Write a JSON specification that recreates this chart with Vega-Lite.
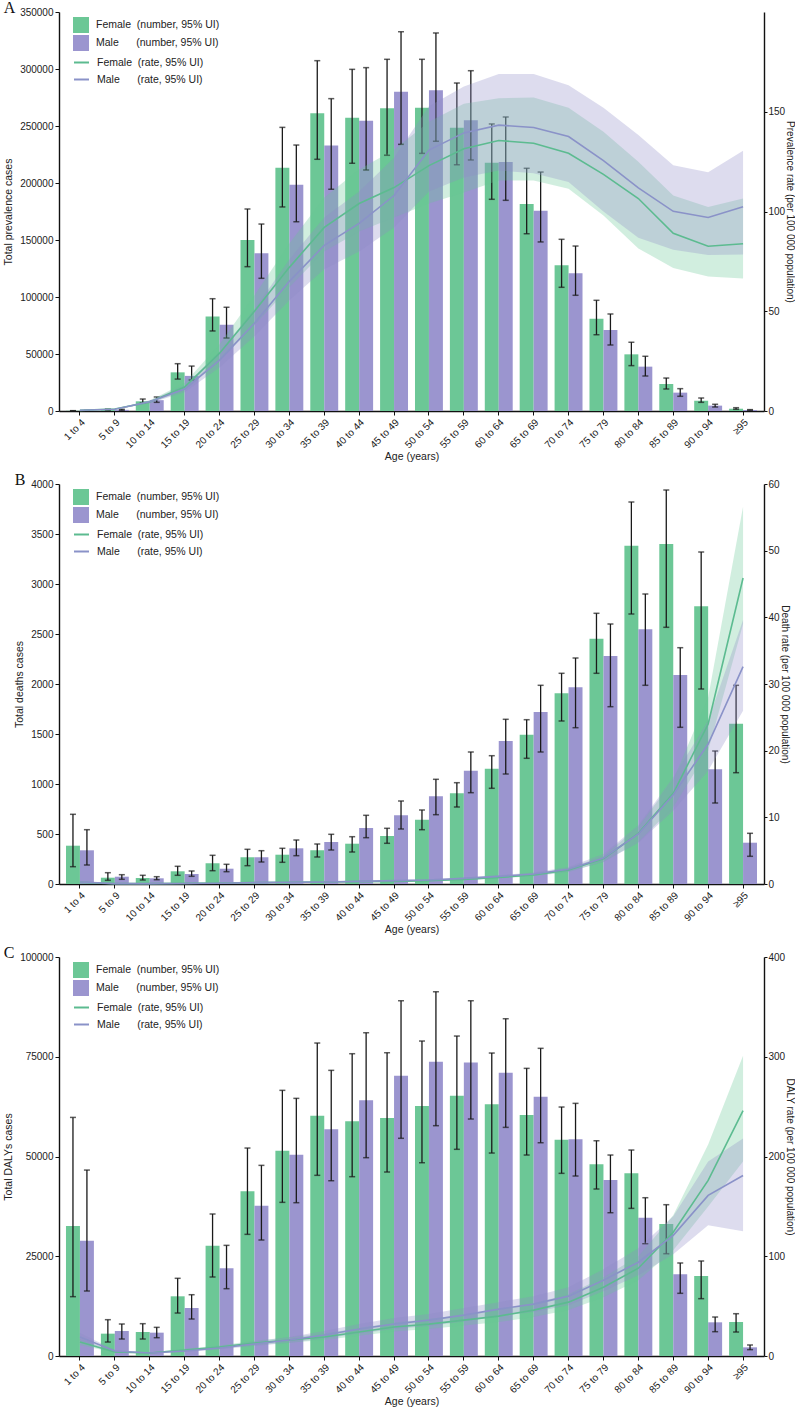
{
"$schema": "https://vega.github.io/schema/vega-lite/v6.json",
"padding": {"left": 3, "top": 0, "right": 0, "bottom": 0},
"config": {
  "font": "Liberation Sans",
  "view": {"stroke": null},
  "axis": {"domainColor": "#111", "tickColor": "#111", "labelColor": "#222", "titleColor": "#222", "labelFontSize": 10, "titleFontSize": 10.5, "titleFontWeight": "normal", "grid": false, "domainWidth": 1.4, "tickSize": 4, "labelFont": "Liberation Sans", "titleFont": "Liberation Sans"},
  "legend": {"labelFontSize": 10.5, "labelColor": "#222", "labelFont": "Liberation Sans", "title": null, "padding": 0, "labelOffset": 7},
  "title": {"font": "Liberation Serif", "fontSize": 16, "fontWeight": "normal", "color": "#111", "anchor": "start", "frame": "bounds"}
},
"resolve": {"scale": {"fill": "independent", "stroke": "independent"}, "legend": {"fill": "independent", "stroke": "independent"}},
"spacing": 9,
"datasets": {
"a": [
{"a":"1 to 4","s":"Female","n":200,"lo":100,"hi":300,"r":0.3,"rl":0.25,"rh":0.35},
{"a":"5 to 9","s":"Female","n":1200,"lo":800,"hi":1700,"r":1.0,"rl":0.85,"rh":1.15},
{"a":"10 to 14","s":"Female","n":8500,"lo":7000,"hi":10500,"r":4.5,"rl":3.9,"rh":5.3},
{"a":"15 to 19","s":"Female","n":33900,"lo":28000,"hi":41500,"r":12,"rl":10.3,"rh":14},
{"a":"20 to 24","s":"Female","n":83000,"lo":70200,"hi":98500,"r":29,"rl":25,"rh":33.5},
{"a":"25 to 29","s":"Female","n":150000,"lo":126600,"hi":177200,"r":50,"rl":43,"rh":58},
{"a":"30 to 34","s":"Female","n":213400,"lo":179000,"hi":248800,"r":72,"rl":62,"rh":84},
{"a":"35 to 39","s":"Female","n":261100,"lo":220800,"hi":307300,"r":92,"rl":80,"rh":107},
{"a":"40 to 44","s":"Female","n":257300,"lo":217300,"hi":299700,"r":104,"rl":90,"rh":121},
{"a":"45 to 49","s":"Female","n":265500,"lo":224300,"hi":308500,"r":112,"rl":97,"rh":131},
{"a":"50 to 54","s":"Female","n":266000,"lo":226000,"hi":308500,"r":123,"rl":104,"rh":145},
{"a":"55 to 59","s":"Female","n":248500,"lo":216000,"hi":287700,"r":131.5,"rl":109.5,"rh":154},
{"a":"60 to 64","s":"Female","n":217800,"lo":185700,"hi":251800,"r":135.6,"rl":115.6,"rh":156.8},
{"a":"65 to 69","s":"Female","n":181600,"lo":155500,"hi":212900,"r":134.2,"rl":115.6,"rh":157.1},
{"a":"70 to 74","s":"Female","n":127800,"lo":108500,"hi":150600,"r":129.2,"rl":111.4,"rh":152},
{"a":"75 to 79","s":"Female","n":81000,"lo":66900,"hi":97100,"r":118.6,"rl":98,"rh":140},
{"a":"80 to 84","s":"Female","n":49700,"lo":39800,"hi":60300,"r":106.5,"rl":81.5,"rh":125},
{"a":"85 to 89","s":"Female","n":23700,"lo":19300,"hi":28900,"r":89.1,"rl":71.7,"rh":108},
{"a":"90 to 94","s":"Female","n":9000,"lo":7600,"hi":11400,"r":82.6,"rl":67.4,"rh":102.3},
{"a":"≥95","s":"Female","n":2000,"lo":1500,"hi":2900,"r":83.8,"rl":66.4,"rh":106.5},
{"a":"1 to 4","s":"Male","n":300,"lo":150,"hi":450,"r":0.4,"rl":0.34,"rh":0.46},
{"a":"5 to 9","s":"Male","n":1000,"lo":600,"hi":1500,"r":0.9,"rl":0.77,"rh":1.04},
{"a":"10 to 14","s":"Male","n":9500,"lo":7600,"hi":12300,"r":4.6,"rl":3.9,"rh":5.4},
{"a":"15 to 19","s":"Male","n":30800,"lo":27200,"hi":39400,"r":11,"rl":9.4,"rh":12.8},
{"a":"20 to 24","s":"Male","n":75700,"lo":64000,"hi":91000,"r":25.5,"rl":21.8,"rh":29.6},
{"a":"25 to 29","s":"Male","n":138300,"lo":116400,"hi":164000,"r":44,"rl":37.5,"rh":51},
{"a":"30 to 34","s":"Male","n":198500,"lo":166000,"hi":233300,"r":65,"rl":55.5,"rh":76},
{"a":"35 to 39","s":"Male","n":233000,"lo":194500,"hi":274000,"r":83,"rl":71,"rh":97},
{"a":"40 to 44","s":"Male","n":254700,"lo":211400,"hi":301200,"r":94,"rl":80,"rh":110},
{"a":"45 to 49","s":"Male","n":280100,"lo":233900,"hi":332700,"r":108,"rl":92,"rh":127},
{"a":"50 to 54","s":"Male","n":281300,"lo":236600,"hi":331600,"r":130.8,"rl":110,"rh":152.7},
{"a":"55 to 59","s":"Male","n":255000,"lo":220200,"hi":298500,"r":139.4,"rl":117,"rh":162.6},
{"a":"60 to 64","s":"Male","n":218400,"lo":184800,"hi":257900,"r":143.3,"rl":120.6,"rh":168.9},
{"a":"65 to 69","s":"Male","n":175700,"lo":148300,"hi":209600,"r":142.1,"rl":119.2,"rh":168.9},
{"a":"70 to 74","s":"Male","n":120800,"lo":101500,"hi":144700,"r":137.6,"rl":114.8,"rh":163.3},
{"a":"75 to 79","s":"Male","n":71100,"lo":57900,"hi":85100,"r":125.5,"rl":100,"rh":152},
{"a":"80 to 84","s":"Male","n":38900,"lo":30700,"hi":48000,"r":111.8,"rl":86.8,"rh":138.3},
{"a":"85 to 89","s":"Male","n":16100,"lo":12900,"hi":19600,"r":100.1,"rl":80.8,"rh":123.2},
{"a":"90 to 94","s":"Male","n":4700,"lo":3500,"hi":5900,"r":97,"rl":78.2,"rh":119.7},
{"a":"≥95","s":"Male","n":900,"lo":600,"hi":1200,"r":102.4,"rl":78.5,"rh":130.5}
],
"b": [
{"a":"1 to 4","s":"Female","n":383,"lo":173,"hi":697,"r":0.25,"rl":0.15,"rh":0.35},
{"a":"5 to 9","s":"Female","n":63,"lo":37,"hi":113,"r":0.05,"rl":0.03,"rh":0.07},
{"a":"10 to 14","s":"Female","n":60,"lo":40,"hi":87,"r":0.05,"rl":0.03,"rh":0.07},
{"a":"15 to 19","s":"Female","n":127,"lo":87,"hi":177,"r":0.1,"rl":0.07,"rh":0.13},
{"a":"20 to 24","s":"Female","n":207,"lo":133,"hi":287,"r":0.15,"rl":0.1,"rh":0.2},
{"a":"25 to 29","s":"Female","n":267,"lo":183,"hi":347,"r":0.2,"rl":0.14,"rh":0.26},
{"a":"30 to 34","s":"Female","n":293,"lo":217,"hi":357,"r":0.25,"rl":0.19,"rh":0.31},
{"a":"35 to 39","s":"Female","n":337,"lo":270,"hi":400,"r":0.3,"rl":0.24,"rh":0.36},
{"a":"40 to 44","s":"Female","n":403,"lo":320,"hi":473,"r":0.35,"rl":0.29,"rh":0.41},
{"a":"45 to 49","s":"Female","n":480,"lo":407,"hi":557,"r":0.4,"rl":0.34,"rh":0.46},
{"a":"50 to 54","s":"Female","n":643,"lo":543,"hi":740,"r":0.5,"rl":0.42,"rh":0.58},
{"a":"55 to 59","s":"Female","n":907,"lo":770,"hi":1013,"r":0.7,"rl":0.6,"rh":0.8},
{"a":"60 to 64","s":"Female","n":1153,"lo":957,"hi":1283,"r":1.0,"rl":0.85,"rh":1.12},
{"a":"65 to 69","s":"Female","n":1493,"lo":1257,"hi":1643,"r":1.35,"rl":1.15,"rh":1.5},
{"a":"70 to 74","s":"Female","n":1907,"lo":1630,"hi":2107,"r":2.1,"rl":1.8,"rh":2.35},
{"a":"75 to 79","s":"Female","n":2453,"lo":2107,"hi":2707,"r":3.8,"rl":3.3,"rh":4.2},
{"a":"80 to 84","s":"Female","n":3383,"lo":2700,"hi":3820,"r":7.6,"rl":6.3,"rh":8.6},
{"a":"85 to 89","s":"Female","n":3400,"lo":2567,"hi":3940,"r":13.6,"rl":11.5,"rh":15.6},
{"a":"90 to 94","s":"Female","n":2777,"lo":1950,"hi":3320,"r":24,"rl":20,"rh":28},
{"a":"≥95","s":"Female","n":1603,"lo":1113,"hi":1987,"r":45.9,"rl":39,"rh":56.6},
{"a":"1 to 4","s":"Male","n":337,"lo":190,"hi":543,"r":0.3,"rl":0.18,"rh":0.42},
{"a":"5 to 9","s":"Male","n":73,"lo":47,"hi":93,"r":0.05,"rl":0.03,"rh":0.07},
{"a":"10 to 14","s":"Male","n":57,"lo":43,"hi":73,"r":0.05,"rl":0.03,"rh":0.07},
{"a":"15 to 19","s":"Male","n":100,"lo":77,"hi":130,"r":0.08,"rl":0.06,"rh":0.1},
{"a":"20 to 24","s":"Male","n":153,"lo":123,"hi":197,"r":0.12,"rl":0.09,"rh":0.15},
{"a":"25 to 29","s":"Male","n":267,"lo":220,"hi":333,"r":0.2,"rl":0.15,"rh":0.25},
{"a":"30 to 34","s":"Male","n":357,"lo":283,"hi":440,"r":0.25,"rl":0.2,"rh":0.3},
{"a":"35 to 39","s":"Male","n":420,"lo":340,"hi":497,"r":0.3,"rl":0.24,"rh":0.36},
{"a":"40 to 44","s":"Male","n":560,"lo":463,"hi":687,"r":0.4,"rl":0.33,"rh":0.47},
{"a":"45 to 49","s":"Male","n":687,"lo":550,"hi":830,"r":0.5,"rl":0.42,"rh":0.58},
{"a":"50 to 54","s":"Male","n":877,"lo":693,"hi":1047,"r":0.6,"rl":0.5,"rh":0.7},
{"a":"55 to 59","s":"Male","n":1133,"lo":913,"hi":1320,"r":0.85,"rl":0.72,"rh":0.98},
{"a":"60 to 64","s":"Male","n":1430,"lo":1100,"hi":1647,"r":1.15,"rl":0.98,"rh":1.32},
{"a":"65 to 69","s":"Male","n":1720,"lo":1320,"hi":1987,"r":1.5,"rl":1.28,"rh":1.72},
{"a":"70 to 74","s":"Male","n":1967,"lo":1563,"hi":2260,"r":2.2,"rl":1.85,"rh":2.55},
{"a":"75 to 79","s":"Male","n":2280,"lo":1773,"hi":2600,"r":3.9,"rl":3.3,"rh":4.5},
{"a":"80 to 84","s":"Male","n":2547,"lo":1987,"hi":2900,"r":7.5,"rl":6.2,"rh":8.8},
{"a":"85 to 89","s":"Male","n":2090,"lo":1567,"hi":2363,"r":13.4,"rl":11,"rh":16},
{"a":"90 to 94","s":"Male","n":1147,"lo":810,"hi":1330,"r":21,"rl":17,"rh":24.5},
{"a":"≥95","s":"Male","n":413,"lo":277,"hi":507,"r":32.6,"rl":26,"rh":39.6}
],
"c": [
{"a":"1 to 4","s":"Female","n":32580,"lo":14870,"hi":59800,"r":14,"rl":11,"rh":17},
{"a":"5 to 9","s":"Female","n":5600,"lo":3500,"hi":9100,"r":4,"rl":3.2,"rh":4.8},
{"a":"10 to 14","s":"Female","n":6010,"lo":4260,"hi":8100,"r":3,"rl":2.4,"rh":3.6},
{"a":"15 to 19","s":"Female","n":14960,"lo":10770,"hi":19470,"r":6,"rl":4.8,"rh":7.2},
{"a":"20 to 24","s":"Female","n":27640,"lo":19800,"hi":35590,"r":9,"rl":7.4,"rh":10.6},
{"a":"25 to 29","s":"Female","n":41270,"lo":30490,"hi":52120,"r":13,"rl":10.8,"rh":15.2},
{"a":"30 to 34","s":"Female","n":51450,"lo":38510,"hi":66580,"r":16,"rl":13.4,"rh":18.8},
{"a":"35 to 39","s":"Female","n":60220,"lo":45280,"hi":78440,"r":19,"rl":16,"rh":22.5},
{"a":"40 to 44","s":"Female","n":58810,"lo":44940,"hi":75760,"r":24,"rl":20.3,"rh":28},
{"a":"45 to 49","s":"Female","n":59640,"lo":46110,"hi":76010,"r":29,"rl":24.5,"rh":33.5},
{"a":"50 to 54","s":"Female","n":62650,"lo":48440,"hi":78940,"r":32,"rl":27,"rh":37},
{"a":"55 to 59","s":"Female","n":65230,"lo":51800,"hi":80190,"r":36,"rl":30.5,"rh":41.5},
{"a":"60 to 64","s":"Female","n":63070,"lo":50870,"hi":75930,"r":40,"rl":34,"rh":46},
{"a":"65 to 69","s":"Female","n":60390,"lo":50370,"hi":72090,"r":46,"rl":39,"rh":53},
{"a":"70 to 74","s":"Female","n":54210,"lo":45780,"hi":62400,"r":54,"rl":46,"rh":62},
{"a":"75 to 79","s":"Female","n":48040,"lo":41850,"hi":53950,"r":69,"rl":59,"rh":79},
{"a":"80 to 84","s":"Female","n":45780,"lo":37000,"hi":51620,"r":88,"rl":76,"rh":100},
{"a":"85 to 89","s":"Female","n":33080,"lo":25640,"hi":37920,"r":124,"rl":106,"rh":141},
{"a":"90 to 94","s":"Female","n":20050,"lo":14370,"hi":23810,"r":176,"rl":150,"rh":212},
{"a":"≥95","s":"Female","n":8520,"lo":6010,"hi":10600,"r":246,"rl":195,"rh":301},
{"a":"1 to 4","s":"Male","n":28900,"lo":16290,"hi":46600,"r":19,"rl":15,"rh":23},
{"a":"5 to 9","s":"Male","n":6270,"lo":4260,"hi":8020,"r":5,"rl":4,"rh":6},
{"a":"10 to 14","s":"Male","n":5850,"lo":4590,"hi":7180,"r":3,"rl":2.4,"rh":3.6},
{"a":"15 to 19","s":"Male","n":12030,"lo":9270,"hi":15360,"r":5,"rl":4,"rh":6},
{"a":"20 to 24","s":"Male","n":21980,"lo":16870,"hi":27730,"r":8,"rl":6.5,"rh":9.5},
{"a":"25 to 29","s":"Male","n":37670,"lo":29070,"hi":47780,"r":12,"rl":10,"rh":14.5},
{"a":"30 to 34","s":"Male","n":50450,"lo":38420,"hi":64570,"r":16,"rl":13.2,"rh":19},
{"a":"35 to 39","s":"Male","n":56810,"lo":43930,"hi":71590,"r":21,"rl":17.5,"rh":25},
{"a":"40 to 44","s":"Male","n":64070,"lo":49700,"hi":81020,"r":27,"rl":22.5,"rh":32},
{"a":"45 to 49","s":"Male","n":70240,"lo":54560,"hi":89040,"r":32,"rl":27,"rh":38},
{"a":"50 to 54","s":"Male","n":73750,"lo":57720,"hi":91290,"r":36,"rl":30,"rh":42},
{"a":"55 to 59","s":"Male","n":73580,"lo":59390,"hi":89040,"r":41,"rl":34.5,"rh":48},
{"a":"60 to 64","s":"Male","n":70990,"lo":57300,"hi":84530,"r":47,"rl":40,"rh":54},
{"a":"65 to 69","s":"Male","n":64980,"lo":53450,"hi":77110,"r":52,"rl":44,"rh":60},
{"a":"70 to 74","s":"Male","n":54300,"lo":45110,"hi":63320,"r":60,"rl":51,"rh":69},
{"a":"75 to 79","s":"Male","n":44110,"lo":35910,"hi":50370,"r":76,"rl":65,"rh":87},
{"a":"80 to 84","s":"Male","n":34660,"lo":28140,"hi":39670,"r":94,"rl":81,"rh":108},
{"a":"85 to 89","s":"Male","n":20470,"lo":15710,"hi":23310,"r":121,"rl":102,"rh":140},
{"a":"90 to 94","s":"Male","n":8440,"lo":6090,"hi":9770,"r":161,"rl":131,"rh":195},
{"a":"≥95","s":"Male","n":2170,"lo":1590,"hi":2760,"r":181,"rl":125,"rh":218}
]
},
"vconcat": [
{
  "title": {"text": "A", "offset": -9},
  "width": 705, "height": 399,
  "data": {"name": "a"},
  "encoding": {"x": {"field": "a", "type": "nominal", "sort": ["1 to 4","5 to 9","10 to 14","15 to 19","20 to 24","25 to 29","30 to 34","35 to 39","40 to 44","45 to 49","50 to 54","55 to 59","60 to 64","65 to 69","70 to 74","75 to 79","80 to 84","85 to 89","90 to 94","≥95"], "scale": {"paddingInner": 0.2, "paddingOuter": 0.2}, "axis": {"title": "Age (years)", "labelAngle": -45, "labelPadding": 2, "titlePadding": 2}}},
  "layer": [
    {"layer": [
      {"mark": {"type": "bar"}, "encoding": {
        "xOffset": {"field": "s", "type": "nominal", "scale": {"paddingInner": 0}},
        "y": {"field": "n", "type": "quantitative", "scale": {"domain": [0, 350000]}, "axis": {"title": "Total prevalence cases", "values": [0,50000,100000,150000,200000,250000,300000,350000], "format": "d", "titlePadding": 6}},
        "fill": {"field": "s", "type": "nominal", "scale": {"range": ["#6cc796","#9b95cf"]}, "legend": {"orient": "none", "legendX": 14, "legendY": 5, "symbolType": "square", "symbolSize": 256, "symbolStrokeWidth": 0, "rowPadding": 2, "labelExpr": "datum.label == 'Female' ? 'Female\u00a0\u00a0(number, 95% UI)' : 'Male\u00a0\u00a0\u00a0\u00a0\u00a0\u00a0(number, 95% UI)'"}}
      }},
      {"mark": {"type": "rule", "color": "#1a1a1a", "strokeWidth": 1.3}, "encoding": {
        "xOffset": {"field": "s", "type": "nominal", "scale": {"paddingInner": 0}},
        "y": {"field": "lo", "type": "quantitative"}, "y2": {"field": "hi"}
      }},
      {"mark": {"type": "tick", "color": "#1a1a1a", "size": 6, "thickness": 1.5}, "encoding": {
        "xOffset": {"field": "s", "type": "nominal", "scale": {"paddingInner": 0}},
        "y": {"field": "lo", "type": "quantitative"}
      }},
      {"mark": {"type": "tick", "color": "#1a1a1a", "size": 6, "thickness": 1.5}, "encoding": {
        "xOffset": {"field": "s", "type": "nominal", "scale": {"paddingInner": 0}},
        "y": {"field": "hi", "type": "quantitative"}
      }}
    ]},
    {"layer": [
      {"transform": [{"filter": "datum.s == 'Female'"}], "mark": {"type": "area", "color": "#66c796", "opacity": 0.3}, "encoding": {
        "y": {"field": "rl", "type": "quantitative", "scale": {"domain": [0, 181.4]}, "axis": {"orient": "right", "title": "Prevalence rate (per 100 000 population)", "values": [0,50,100,150], "titlePadding": 0, "titleFontSize": 10, "tickSize": 3, "labelPadding": 1}},
        "y2": {"field": "rh"}
      }},
      {"transform": [{"filter": "datum.s == 'Male'"}], "mark": {"type": "area", "color": "#8f8ac8", "opacity": 0.3}, "encoding": {
        "y": {"field": "rl", "type": "quantitative"}, "y2": {"field": "rh"}
      }},
      {"mark": {"type": "line", "strokeWidth": 1.6}, "encoding": {
        "y": {"field": "r", "type": "quantitative"},
        "stroke": {"field": "s", "type": "nominal", "scale": {"domain": ["Female","Male"], "range": ["#5cbb90","#8a92c8"]}, "legend": {"orient": "none", "legendX": 14, "legendY": 42, "symbolType": "stroke", "symbolSize": 225, "symbolStrokeWidth": 2, "rowPadding": 3, "labelExpr": "datum.label == 'Female' ? 'Female\u00a0\u00a0(rate, 95% UI)' : 'Male\u00a0\u00a0\u00a0\u00a0\u00a0\u00a0(rate, 95% UI)'"}}
      }}
    ]}
  ],
  "resolve": {"scale": {"y": "independent"}}
},
{
  "title": {"text": "B", "offset": -9},
  "width": 705, "height": 400,
  "data": {"name": "b"},
  "encoding": {"x": {"field": "a", "type": "nominal", "sort": ["1 to 4","5 to 9","10 to 14","15 to 19","20 to 24","25 to 29","30 to 34","35 to 39","40 to 44","45 to 49","50 to 54","55 to 59","60 to 64","65 to 69","70 to 74","75 to 79","80 to 84","85 to 89","90 to 94","≥95"], "scale": {"paddingInner": 0.2, "paddingOuter": 0.2}, "axis": {"title": "Age (years)", "labelAngle": -45, "labelPadding": 2, "titlePadding": 2}}},
  "layer": [
    {"layer": [
      {"mark": {"type": "bar"}, "encoding": {
        "xOffset": {"field": "s", "type": "nominal", "scale": {"paddingInner": 0}},
        "y": {"field": "n", "type": "quantitative", "scale": {"domain": [0, 4000]}, "axis": {"title": "Total deaths cases", "values": [0,500,1000,1500,2000,2500,3000,3500,4000], "format": "d", "titlePadding": 6}},
        "fill": {"field": "s", "type": "nominal", "scale": {"range": ["#6cc796","#9b95cf"]}, "legend": {"orient": "none", "legendX": 14, "legendY": 5, "symbolType": "square", "symbolSize": 256, "symbolStrokeWidth": 0, "rowPadding": 2, "labelExpr": "datum.label == 'Female' ? 'Female\u00a0\u00a0(number, 95% UI)' : 'Male\u00a0\u00a0\u00a0\u00a0\u00a0\u00a0(number, 95% UI)'"}}
      }},
      {"mark": {"type": "rule", "color": "#1a1a1a", "strokeWidth": 1.3}, "encoding": {
        "xOffset": {"field": "s", "type": "nominal", "scale": {"paddingInner": 0}},
        "y": {"field": "lo", "type": "quantitative"}, "y2": {"field": "hi"}
      }},
      {"mark": {"type": "tick", "color": "#1a1a1a", "size": 6, "thickness": 1.5}, "encoding": {
        "xOffset": {"field": "s", "type": "nominal", "scale": {"paddingInner": 0}},
        "y": {"field": "lo", "type": "quantitative"}
      }},
      {"mark": {"type": "tick", "color": "#1a1a1a", "size": 6, "thickness": 1.5}, "encoding": {
        "xOffset": {"field": "s", "type": "nominal", "scale": {"paddingInner": 0}},
        "y": {"field": "hi", "type": "quantitative"}
      }}
    ]},
    {"layer": [
      {"transform": [{"filter": "datum.s == 'Female'"}], "mark": {"type": "area", "color": "#66c796", "opacity": 0.3}, "encoding": {
        "y": {"field": "rl", "type": "quantitative", "scale": {"domain": [0, 60]}, "axis": {"orient": "right", "title": "Death rate (per 100 000 population)", "values": [0,10,20,30,40,50,60], "titlePadding": 0, "titleFontSize": 10, "tickSize": 3, "labelPadding": 1}},
        "y2": {"field": "rh"}
      }},
      {"transform": [{"filter": "datum.s == 'Male'"}], "mark": {"type": "area", "color": "#8f8ac8", "opacity": 0.3}, "encoding": {
        "y": {"field": "rl", "type": "quantitative"}, "y2": {"field": "rh"}
      }},
      {"mark": {"type": "line", "strokeWidth": 1.6}, "encoding": {
        "y": {"field": "r", "type": "quantitative"},
        "stroke": {"field": "s", "type": "nominal", "scale": {"domain": ["Female","Male"], "range": ["#5cbb90","#8a92c8"]}, "legend": {"orient": "none", "legendX": 14, "legendY": 42, "symbolType": "stroke", "symbolSize": 225, "symbolStrokeWidth": 2, "rowPadding": 3, "labelExpr": "datum.label == 'Female' ? 'Female\u00a0\u00a0(rate, 95% UI)' : 'Male\u00a0\u00a0\u00a0\u00a0\u00a0\u00a0(rate, 95% UI)'"}}
      }}
    ]}
  ],
  "resolve": {"scale": {"y": "independent"}}
},
{
  "title": {"text": "C", "offset": -9},
  "width": 705, "height": 399,
  "data": {"name": "c"},
  "encoding": {"x": {"field": "a", "type": "nominal", "sort": ["1 to 4","5 to 9","10 to 14","15 to 19","20 to 24","25 to 29","30 to 34","35 to 39","40 to 44","45 to 49","50 to 54","55 to 59","60 to 64","65 to 69","70 to 74","75 to 79","80 to 84","85 to 89","90 to 94","≥95"], "scale": {"paddingInner": 0.2, "paddingOuter": 0.2}, "axis": {"title": "Age (years)", "labelAngle": -45, "labelPadding": 2, "titlePadding": 2}}},
  "layer": [
    {"layer": [
      {"mark": {"type": "bar"}, "encoding": {
        "xOffset": {"field": "s", "type": "nominal", "scale": {"paddingInner": 0}},
        "y": {"field": "n", "type": "quantitative", "scale": {"domain": [0, 100000]}, "axis": {"title": "Total DALYs cases", "values": [0,25000,50000,75000,100000], "format": "d", "titlePadding": 6}},
        "fill": {"field": "s", "type": "nominal", "scale": {"range": ["#6cc796","#9b95cf"]}, "legend": {"orient": "none", "legendX": 14, "legendY": 5, "symbolType": "square", "symbolSize": 256, "symbolStrokeWidth": 0, "rowPadding": 2, "labelExpr": "datum.label == 'Female' ? 'Female\u00a0\u00a0(number, 95% UI)' : 'Male\u00a0\u00a0\u00a0\u00a0\u00a0\u00a0(number, 95% UI)'"}}
      }},
      {"mark": {"type": "rule", "color": "#1a1a1a", "strokeWidth": 1.3}, "encoding": {
        "xOffset": {"field": "s", "type": "nominal", "scale": {"paddingInner": 0}},
        "y": {"field": "lo", "type": "quantitative"}, "y2": {"field": "hi"}
      }},
      {"mark": {"type": "tick", "color": "#1a1a1a", "size": 6, "thickness": 1.5}, "encoding": {
        "xOffset": {"field": "s", "type": "nominal", "scale": {"paddingInner": 0}},
        "y": {"field": "lo", "type": "quantitative"}
      }},
      {"mark": {"type": "tick", "color": "#1a1a1a", "size": 6, "thickness": 1.5}, "encoding": {
        "xOffset": {"field": "s", "type": "nominal", "scale": {"paddingInner": 0}},
        "y": {"field": "hi", "type": "quantitative"}
      }}
    ]},
    {"layer": [
      {"transform": [{"filter": "datum.s == 'Female'"}], "mark": {"type": "area", "color": "#66c796", "opacity": 0.3}, "encoding": {
        "y": {"field": "rl", "type": "quantitative", "scale": {"domain": [0, 400]}, "axis": {"orient": "right", "title": "DALY rate (per 100 000 population)", "values": [0,100,200,300,400], "titlePadding": 0, "titleFontSize": 10, "tickSize": 3, "labelPadding": 1}},
        "y2": {"field": "rh"}
      }},
      {"transform": [{"filter": "datum.s == 'Male'"}], "mark": {"type": "area", "color": "#8f8ac8", "opacity": 0.3}, "encoding": {
        "y": {"field": "rl", "type": "quantitative"}, "y2": {"field": "rh"}
      }},
      {"mark": {"type": "line", "strokeWidth": 1.6}, "encoding": {
        "y": {"field": "r", "type": "quantitative"},
        "stroke": {"field": "s", "type": "nominal", "scale": {"domain": ["Female","Male"], "range": ["#5cbb90","#8a92c8"]}, "legend": {"orient": "none", "legendX": 14, "legendY": 42, "symbolType": "stroke", "symbolSize": 225, "symbolStrokeWidth": 2, "rowPadding": 3, "labelExpr": "datum.label == 'Female' ? 'Female\u00a0\u00a0(rate, 95% UI)' : 'Male\u00a0\u00a0\u00a0\u00a0\u00a0\u00a0(rate, 95% UI)'"}}
      }}
    ]}
  ],
  "resolve": {"scale": {"y": "independent"}}
}
]
}
